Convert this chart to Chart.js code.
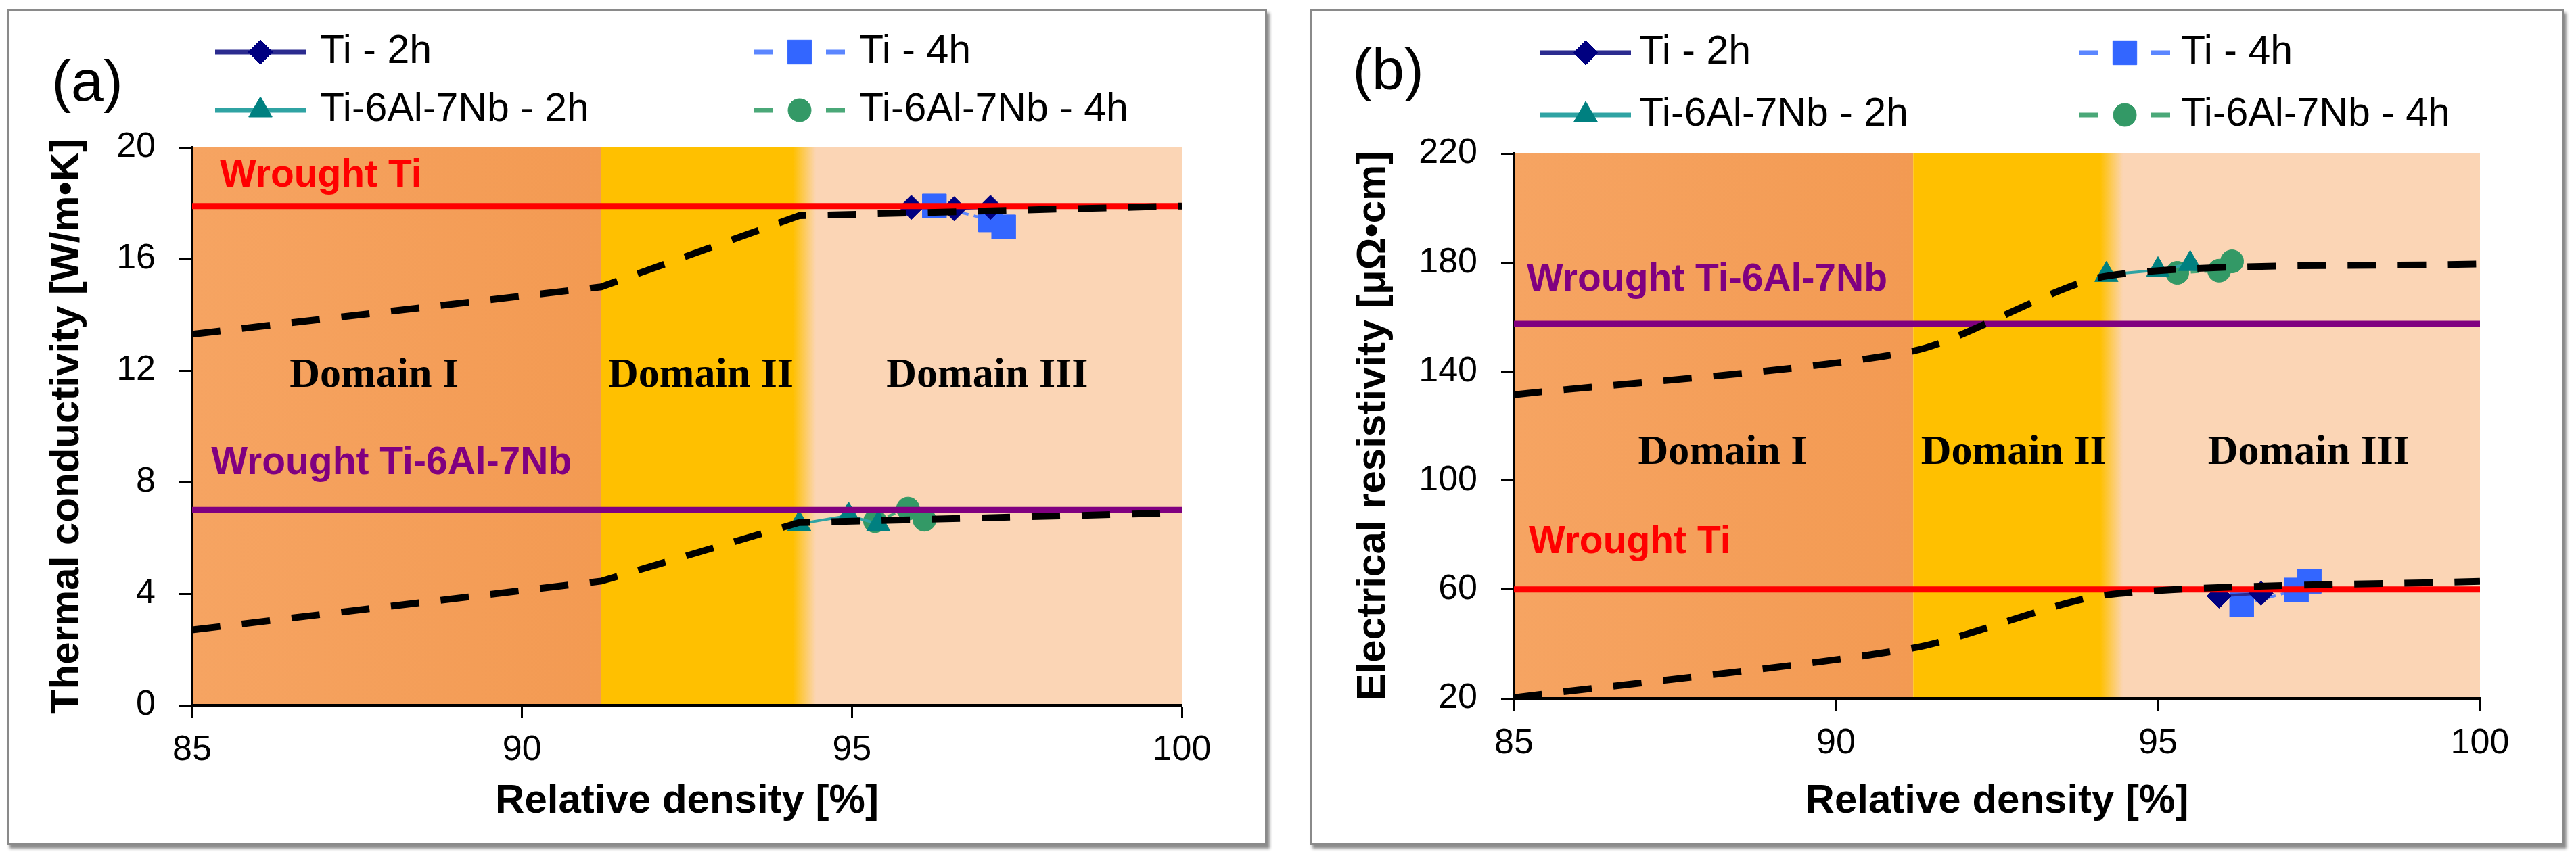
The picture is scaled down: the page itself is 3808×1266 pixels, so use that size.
<!DOCTYPE html>
<html>
<head>
<meta charset="utf-8">
<script src="https://cdn.jsdelivr.net/npm/chart.js@4.4.1/dist/chart.umd.min.js"></script>
<style>
    html, body { margin: 0; padding: 0; background: #fff; }
    body { width: 3808px; height: 1266px; position: relative; overflow: hidden; }
    .panel {
        position: absolute; top: 14px; height: 1230px;
        border: 3px solid #8a8a8a; background: #fff;
        box-shadow: 4px 5px 4px rgba(0, 0, 0, 0.45);
    }
    #panelA { left: 10px; width: 1857px; }
    #panelB { left: 1936px; width: 1848px; }
    canvas { display: block; }
</style>
</head>
<body>
<div class="panel" id="panelA"><canvas id="chartA" width="1857" height="1230"></canvas></div>
<div class="panel" id="panelB"><canvas id="chartB" width="1848" height="1230"></canvas></div>
<script>
// shared x axis and domains
const densityTicks = [85, 90, 95, 100];
const domainEdges = [85, 91.2, 94.25, 100];
const domainNames = ['Domain I', 'Domain II', 'Domain III'];
const seriesNames = ['Ti - 2h', 'Ti - 4h', 'Ti-6Al-7Nb - 2h', 'Ti-6Al-7Nb - 4h'];
const trendDensity = [85, 91.2, 94.2, 100];

// (a) thermal conductivity [W/m.K]
const condTicks = [0, 4, 8, 12, 16, 20];
const condTi2hDensity = [95.9, 96.55, 97.1];
const condTi2h = [17.85, 17.8, 17.85];
const condTi4hDensity = [96.25, 97.1, 97.3];
const condTi4h = [17.9, 17.4, 17.15];
const condAlloy2hDensity = [94.2, 94.95, 95.4];
const condAlloy2h = [6.5, 6.8, 6.5];
const condAlloy4hDensity = [95.35, 95.85, 96.1];
const condAlloy4h = [6.6, 7.05, 6.65];
const condWroughtTi = 17.9;
const condWroughtAlloy = 7.0;
const condTrendTi = [13.3, 15.0, 17.55, 17.9];
const condTrendAlloy = [2.7, 4.45, 6.55, 6.9];

// (b) electrical resistivity [uOhm.cm]
const resTicks = [20, 60, 100, 140, 180, 220];
const resTi2hDensity = [95.95, 96.6];
const resTi2h = [57.6, 58.6];
const resTi4hDensity = [96.3, 97.15, 97.35];
const resTi4h = [54.4, 59.8, 63];
const resAlloy2hDensity = [94.2, 95.0, 95.5];
const resAlloy2h = [175.5, 177.2, 179.5];
const resAlloy4hDensity = [95.3, 95.95, 96.15];
const resAlloy4h = [176.2, 177, 180.4];
const resWroughtTi = 60;
const resWroughtAlloy = 157.5;
const resTrendTi = [20.3, 38.5, 58, 63];
const resTrendAlloy = [131.5, 147.5, 175, 179.5];

const SANS = '"Liberation Sans", Arial, sans-serif';
const SERIF = '"Liberation Serif", "Times New Roman", serif';

// marker / line look of the four measured series
const seriesStyles = [
    { color: '#000080', line: '#2b2b8f', dashed: false, pointStyle: 'rectRot', radius: 18 },
    { color: '#3366FF', line: '#5b86ff', dashed: true, pointStyle: 'rect', radius: 25 },
    { color: '#008080', line: '#2fa3a3', dashed: false, pointStyle: 'triangle', radius: 20 },
    { color: '#339966', line: '#4aa878', dashed: true, pointStyle: 'circle', radius: 17 }
];

const layoutA = {
    axisW: 271, padRight: 123, padTop: 201, axisH: 204, yTitlePad: 50,
    yTitle: 'Thermal conductivity [W/m\u2022K]',
    tag: '(a)', tagPos: [116, 108],
    legendX: [372, 1169], legendY: [60, 146], legendText: [460, 1257],
    wroughtTiAt: [85.42, 18.98], wroughtAlloyAt: [85.29, 8.68],
    domainX: [87.76, 92.71, 97.05], domainY: 11.8,
    tension: 0
};

const layoutB = {
    axisW: 299, padRight: 121, padTop: 210, axisH: 214, yTitlePad: 55,
    yTitle: 'Electrical resistivity [\u03bc\u03a9\u2022cm]',
    tag: '(b)', tagPos: [113, 91],
    legendX: [405, 1202], legendY: [61, 153], legendText: [484, 1285],
    wroughtTiAt: [85.23, 77.2], wroughtAlloyAt: [85.2, 173.5],
    domainX: [88.24, 92.76, 97.34], domainY: 110,
    tension: 0.25
};

function points(xs, ys) {
    return xs.map((x, i) => ({ x: x, y: ys[i] }));
}

function markerSet(i, xs, ys) {
    const s = seriesStyles[i];
    return {
        label: seriesNames[i],
        data: points(xs, ys),
        showLine: true,
        borderColor: s.line,
        borderWidth: 4,
        borderDash: s.dashed ? [12, 8] : [],
        pointStyle: s.pointStyle,
        pointRadius: s.radius,
        pointBackgroundColor: s.color,
        pointBorderColor: s.color,
        pointBorderWidth: 1,
        order: 3
    };
}

function wroughtLine(value, color) {
    const ends = [densityTicks[0], densityTicks[densityTicks.length - 1]];
    return {
        label: 'wrought',
        data: points(ends, [value, value]),
        showLine: true,
        borderColor: color,
        borderWidth: 9,
        pointRadius: 0,
        order: 2
    };
}

function trendLine(ys, tension) {
    return {
        label: 'trend',
        data: points(trendDensity, ys),
        showLine: true,
        borderColor: '#000',
        borderWidth: 10,
        borderDash: [42, 32],
        borderCapStyle: 'butt',
        tension: tension,
        pointRadius: 0,
        order: 1
    };
}

function makeDecor(L, wroughtLabels) {
    return {
        id: 'panelDecor',
        beforeDraw(chart) {
            const { ctx, chartArea: a, scales: { x } } = chart;
            const e = domainEdges.map(v => x.getPixelForValue(v));
            const h = a.bottom - a.top;
            ctx.save();
            let g = ctx.createLinearGradient(e[0], 0, e[1], 0);
            g.addColorStop(0, '#F6A462');
            g.addColorStop(1, '#F39A52');
            ctx.fillStyle = g;
            ctx.fillRect(e[0], a.top, e[1] - e[0], h);
            ctx.fillStyle = '#FFC000';
            ctx.fillRect(e[1], a.top, e[2] - e[1], h);
            ctx.fillStyle = '#FBD5B5';
            ctx.fillRect(e[2], a.top, e[3] - e[2], h);
            g = ctx.createLinearGradient(e[2] - 14, 0, e[2] + 20, 0);
            g.addColorStop(0, '#FFC000');
            g.addColorStop(1, '#FBD5B5');
            ctx.fillStyle = g;
            ctx.fillRect(e[2] - 14, a.top, 34, h);
            ctx.restore();
        },
        beforeDatasetsDraw(chart) {
            const { ctx, scales: { x, y } } = chart;
            ctx.save();
            ctx.textBaseline = 'middle';
            ctx.textAlign = 'left';
            ctx.font = 'bold 57px ' + SANS;
            ctx.fillStyle = '#FF0000';
            ctx.fillText(wroughtLabels[0], x.getPixelForValue(L.wroughtTiAt[0]), y.getPixelForValue(L.wroughtTiAt[1]));
            ctx.fillStyle = '#800080';
            ctx.fillText(wroughtLabels[1], x.getPixelForValue(L.wroughtAlloyAt[0]), y.getPixelForValue(L.wroughtAlloyAt[1]));
            ctx.font = 'bold 62px ' + SERIF;
            ctx.fillStyle = '#000';
            ctx.textAlign = 'center';
            domainNames.forEach((name, i) => {
                ctx.fillText(name, x.getPixelForValue(L.domainX[i]), y.getPixelForValue(L.domainY));
            });
            ctx.restore();
        },
        afterDraw(chart) {
            const ctx = chart.ctx;
            ctx.save();
            ctx.fillStyle = '#000';
            ctx.textAlign = 'center';
            ctx.textBaseline = 'middle';
            ctx.font = '86px ' + SANS;
            ctx.fillText(L.tag, L.tagPos[0], L.tagPos[1]);

            // legend: line + marker + name
            ctx.textAlign = 'left';
            ctx.font = '59px ' + SANS;
            seriesNames.forEach((name, i) => {
                const s = seriesStyles[i];
                const cx = L.legendX[i % 2];
                const cy = L.legendY[Math.floor(i / 2)];
                ctx.strokeStyle = s.line;
                ctx.lineWidth = 7;
                ctx.setLineDash([]);
                ctx.beginPath();
                if (s.dashed) {
                    ctx.moveTo(cx - 67, cy); ctx.lineTo(cx - 39, cy);
                    ctx.moveTo(cx + 39, cy); ctx.lineTo(cx + 67, cy);
                } else {
                    ctx.moveTo(cx - 67, cy); ctx.lineTo(cx + 67, cy);
                }
                ctx.stroke();
                ctx.fillStyle = s.color;
                ctx.strokeStyle = s.color;
                ctx.lineWidth = 1;
                Chart.helpers.drawPoint(ctx, {
                    pointStyle: s.pointStyle, radius: s.radius, rotation: 0, borderWidth: 1
                }, cx, cy);
                ctx.fillStyle = '#000';
                ctx.fillText(name, L.legendText[i % 2], cy);
            });
            ctx.restore();
        }
    };
}

function buildChart(canvasId, L, yTicks, datasets, wroughtLabels) {
    return new Chart(document.getElementById(canvasId), {
        type: 'scatter',
        data: { datasets: datasets },
        plugins: [makeDecor(L, wroughtLabels)],
        options: {
            responsive: false,
            devicePixelRatio: 1,
            animation: false,
            events: [],
            layout: { padding: { left: 0, right: L.padRight, top: L.padTop, bottom: 0 } },
            plugins: {
                legend: { display: false },
                tooltip: { enabled: false }
            },
            scales: {
                x: {
                    type: 'linear',
                    min: densityTicks[0],
                    max: densityTicks[densityTicks.length - 1],
                    afterBuildTicks: s => { s.ticks = densityTicks.map(v => ({ value: v })); },
                    afterFit: s => { s.height = L.axisH; },
                    ticks: { color: '#000', padding: 16, font: { family: SANS, size: 52 } },
                    grid: {
                        drawOnChartArea: false, drawTicks: true,
                        tickLength: 19, tickWidth: 3, tickColor: '#000'
                    },
                    border: { display: true, color: '#000', width: 4 },
                    title: {
                        display: true, text: 'Relative density [%]', color: '#000',
                        font: { family: SANS, size: 60, weight: 'bold' },
                        padding: { top: 0, bottom: 26 }
                    }
                },
                y: {
                    type: 'linear',
                    min: yTicks[0],
                    max: yTicks[yTicks.length - 1],
                    afterBuildTicks: s => { s.ticks = yTicks.map(v => ({ value: v })); },
                    afterFit: s => { s.width = L.axisW; },
                    ticks: { color: '#000', padding: 35, font: { family: SANS, size: 52 } },
                    grid: {
                        drawOnChartArea: false, drawTicks: true,
                        tickLength: 19, tickWidth: 3, tickColor: '#000'
                    },
                    border: { display: true, color: '#000', width: 4 },
                    title: {
                        display: true, text: L.yTitle, color: '#000',
                        font: { family: SANS, size: 60, weight: 'bold' },
                        padding: { top: L.yTitlePad, bottom: 0 }
                    }
                }
            }
        }
    });
}

buildChart('chartA', layoutA, condTicks, [
    trendLine(condTrendTi, layoutA.tension),
    trendLine(condTrendAlloy, layoutA.tension),
    wroughtLine(condWroughtTi, '#FF0000'),
    wroughtLine(condWroughtAlloy, '#800080'),
    markerSet(0, condTi2hDensity, condTi2h),
    markerSet(1, condTi4hDensity, condTi4h),
    markerSet(2, condAlloy2hDensity, condAlloy2h),
    markerSet(3, condAlloy4hDensity, condAlloy4h)
], ['Wrought Ti', 'Wrought Ti-6Al-7Nb']);

buildChart('chartB', layoutB, resTicks, [
    trendLine(resTrendTi, layoutB.tension),
    trendLine(resTrendAlloy, layoutB.tension),
    wroughtLine(resWroughtTi, '#FF0000'),
    wroughtLine(resWroughtAlloy, '#800080'),
    markerSet(0, resTi2hDensity, resTi2h),
    markerSet(1, resTi4hDensity, resTi4h),
    markerSet(2, resAlloy2hDensity, resAlloy2h),
    markerSet(3, resAlloy4hDensity, resAlloy4h)
], ['Wrought Ti', 'Wrought Ti-6Al-7Nb']);
</script>
</body>
</html>
